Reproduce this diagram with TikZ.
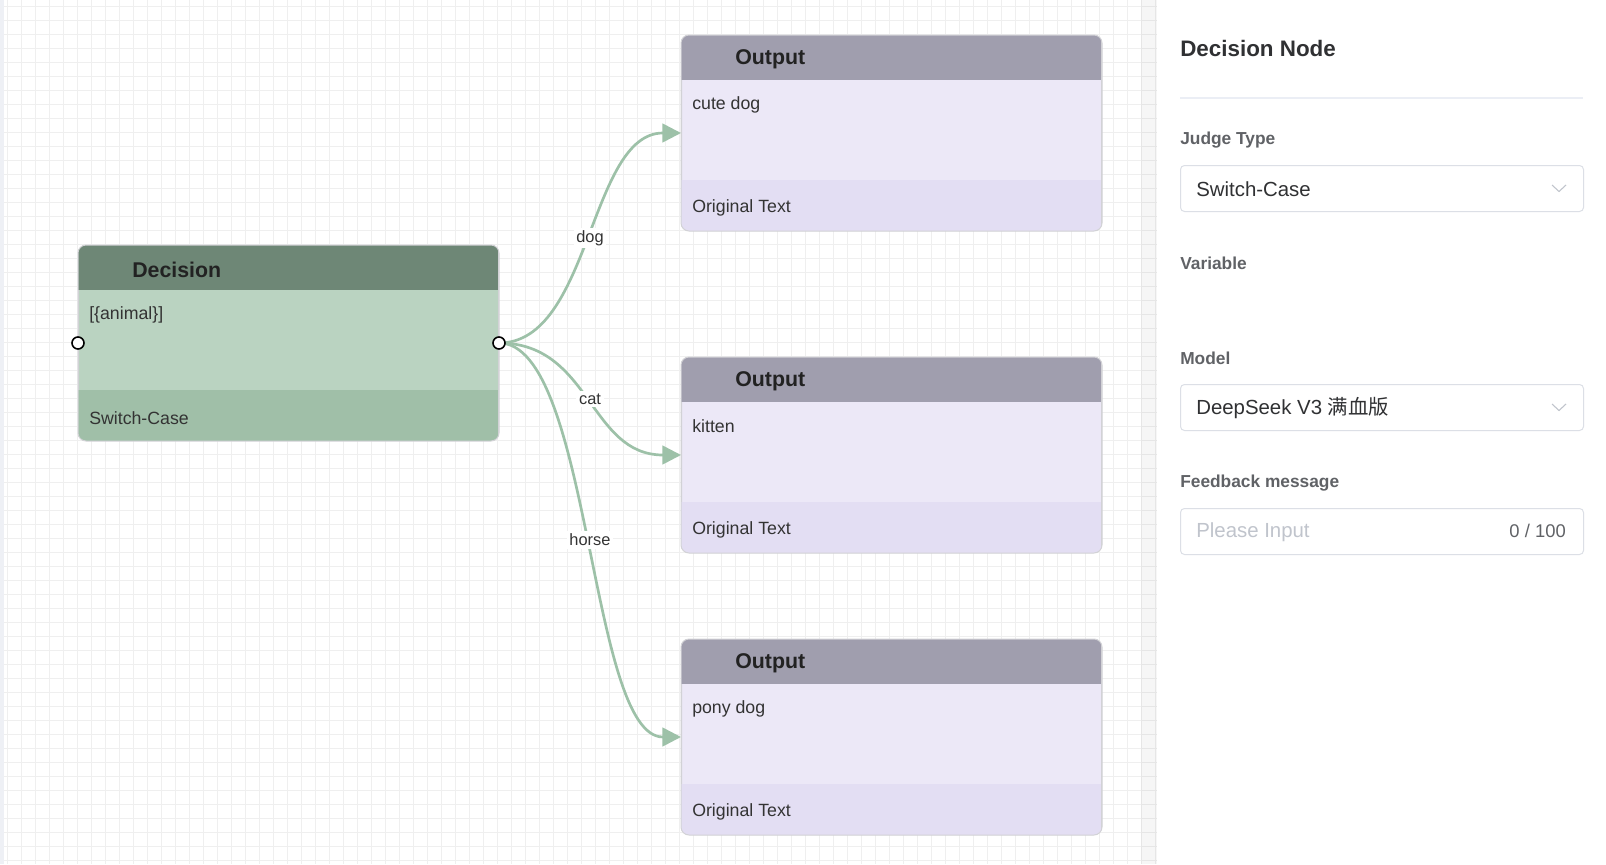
\documentclass[tikz,border=0pt]{standalone}
\usepackage{fontspec}
\setmainfont{Liberation Sans}
\newfontfamily\cjkfont{Noto Sans CJK SC}
\usetikzlibrary{arrows.meta,positioning}

\definecolor{gridline}{HTML}{EFEFEF}
\definecolor{canvasedge}{HTML}{EEF0F5}
\definecolor{dechead}{HTML}{6E8776}
\definecolor{decbody}{HTML}{BAD3C1}
\definecolor{decfoot}{HTML}{A0BFA8}
\definecolor{outhead}{HTML}{A09EAE}
\definecolor{outbody}{HTML}{ECE8F7}
\definecolor{outfoot}{HTML}{E3DEF3}
\definecolor{boxline}{HTML}{D2D2D6}
\definecolor{edgegreen}{HTML}{9DC1A8}
\definecolor{inkdark}{HTML}{222222}
\definecolor{inkbody}{HTML}{333333}
\definecolor{paneltitle}{HTML}{303133}
\definecolor{labelgray}{HTML}{606266}
\definecolor{fieldline}{HTML}{DCDFE6}
\definecolor{placeholder}{HTML}{C0C4CC}
\definecolor{sepline}{HTML}{EBEEF5}

\tikzset{
  card/.style={rectangle, minimum width=315pt, minimum height=146.25pt,
    rounded corners=6pt, draw=boxline, line width=0.75pt, anchor=north west, inner sep=0pt},
  cardtitle/.style={anchor=west, inner sep=0pt, text=inkdark,
    font=\bfseries\fontsize{16}{19}\selectfont},
  cardtext/.style={anchor=west, inner sep=0pt, text=inkbody,
    font=\fontsize{13.3}{16}\selectfont},
  port/.style={circle, draw=black, fill=white, line width=1.2pt, minimum size=9pt, inner sep=0pt},
  link/.style={draw=edgegreen, line width=2pt, -{Triangle[length=14pt,width=14pt]}},
  caselabel/.style={fill=white, inner sep=2pt, text=inkbody, font=\fontsize{12.3}{14}\selectfont},
  panelhead/.style={anchor=west, inner sep=0pt, text=paneltitle, font=\bfseries\fontsize{16.8}{20}\selectfont},
  fieldname/.style={anchor=west, inner sep=0pt, text=labelgray, font=\bfseries\fontsize{13}{16}\selectfont},
  field/.style={rectangle, draw=fieldline, line width=0.75pt, rounded corners=3pt,
    minimum width=302.25pt, minimum height=34.5pt, anchor=north west, inner sep=0pt},
  fieldtext/.style={anchor=west, inner sep=0pt, text=paneltitle, font=\fontsize{15.3}{18}\selectfont},
}

\begin{document}
\begin{tikzpicture}[x=0.75pt,y=-0.75pt]
    \useasboundingbox (0,0) rectangle (1606,864);
    \fill[white] (0,0) rectangle (1606,864);

    % canvas grid
    \fill[canvasedge] (0,0) rectangle (4,864);
    \foreach \gx in {7,21,...,1155} {
        \draw[gridline,line width=0.75pt] (\gx,0)--(\gx,864);
    }
    \foreach \gy in {6,20,...,862} {
        \draw[gridline,line width=0.75pt] (4,\gy)--(1157,\gy);
    }

    % cards
    \foreach \name/\cx/\cy/\head/\body/\foot/\ttl/\main/\sub in {
        dec/78/245/dechead/decbody/decfoot/Decision/{[\{animal\}]}/Switch-Case,
        out1/681/35/outhead/outbody/outfoot/Output/cute dog/Original Text,
        out2/681/357/outhead/outbody/outfoot/Output/kitten/Original Text,
        out3/681/639/outhead/outbody/outfoot/Output/pony dog/Original Text} {
        \node[card,fill=\body] (\name) at (\cx,\cy) {};
        \begin{scope}
            \clip[rounded corners=6pt] (\name.north west) rectangle (\name.south east);
            \fill[\head] (\name.north west) rectangle ++(420,45);
            \fill[\foot] (\name.south west) rectangle ++(420,-51);
        \end{scope}
        \draw[boxline,line width=0.75pt,rounded corners=6pt] (\name.north west) rectangle (\name.south east);
        \node[cardtitle] (\name-title) at (\cx+54,\cy+24.5) {\ttl};
        \node[cardtext] (\name-main) at (\cx+11,\cy+69.5) {\main};
        \node[cardtext] (\name-sub) at (\cx+11,\cy+173) {\sub};
    }

    % branches
    \draw[link] (dec.east) .. controls +(92,0) and +(-92,0) .. node[caselabel,midway] (lbldog) {dog} (out1.west);
    \draw[link] (dec.east) .. controls +(92,0) and +(-92,0) .. node[caselabel,midway] (lblcat) {cat} (out2.west);
    \draw[link] (dec.east) .. controls +(92,0) and +(-92,0) .. node[caselabel,midway] (lblhorse) {horse} (out3.west);

    \node[port] (decin) at (dec.west) {};
    \node[port] (decout) at (dec.east) {};

    % side panel
    \fill[black,opacity=0.035] (1141,0) rectangle (1157,864);
    \fill[white] (1157,0) rectangle (1606,864);

    \node[panelhead] (ptitle) at (1180,48) {Decision Node};
    \draw[sepline,line width=1.2pt] (1180,98)--(1583,98);

    \node[fieldname] (fjudge) at (1180,140) {Judge Type};
    \node[field] (judgebox) at (1180,165) {};
    \node[fieldtext] (judgeval) at (1196,189.5) {Switch-Case};
    \draw[placeholder,line width=0.8pt] (1552,185)--(1559,191.5)--(1566,185);

    \node[fieldname] (fvar) at (1180,263.5) {Variable};

    \node[fieldname] (fmodel) at (1180,358.5) {Model};
    \node[field] (modelbox) at (1180,384) {};
    \node[fieldtext] (modelval) at (1196,408.5) {DeepSeek V3 {\cjkfont 满血版}};
    \draw[placeholder,line width=0.8pt] (1552,404)--(1559,410.5)--(1566,404);

    \node[fieldname] (ffeed) at (1180,483) {Feedback message};
    \node[field] (feedbox) at (1180,508) {};
    \node[fieldtext,text=placeholder] (feedval) at (1196,532) {Please Input};
    \node[anchor=east,inner sep=0pt,text=labelgray,font=\fontsize{13.8}{16}\selectfont] (feedcount) at (1566,531) {0 / 100};

\end{tikzpicture}
\end{document}
